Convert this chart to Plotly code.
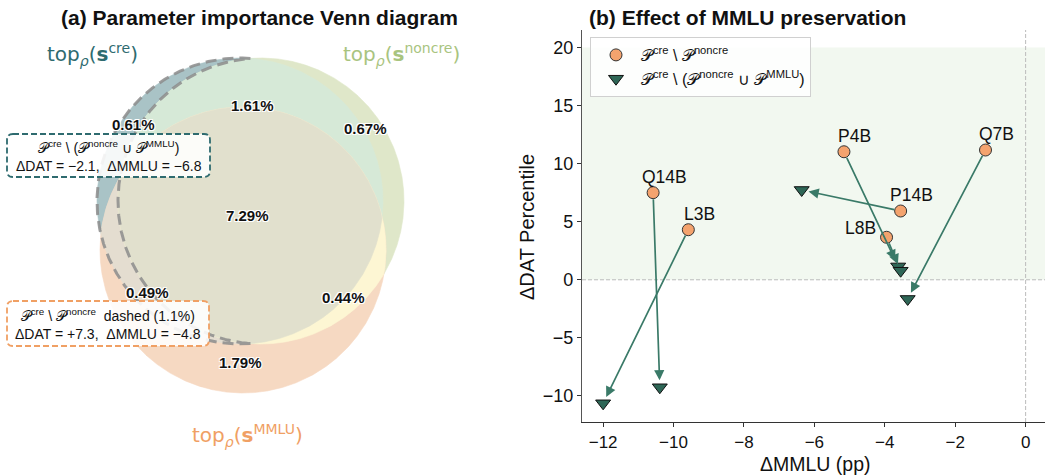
import numpy as np
import plotly.graph_objects as go

# ---------------- data ----------------
# Venn region percentages
pct_cre_only = 0.61
pct_cre_noncre = 1.61
pct_noncre_only = 0.67
pct_all = 7.29
pct_cre_mmlu = 0.49
pct_noncre_mmlu = 0.44
pct_mmlu_only = 1.79

box_dat = [-2.1, 7.3]      # cre\(noncre U mmlu), cre\noncre
box_mmlu = [-6.8, -4.8]
dashed_pct = 1.1

# Scatter panel
models = ["Q14B", "L3B", "P4B", "L8B", "P14B", "Q7B"]
mmlu_cre_noncre = [-10.58, -9.58, -5.16, -3.95, -3.55, -1.14]
dat_cre_noncre = [7.50, 4.31, 11.02, 3.66, 5.92, 11.17]
mmlu_cre_excl = [-10.39, -12.00, -3.62, -3.55, -6.36, -3.35]
dat_cre_excl = [-9.25, -10.63, 1.15, 0.78, 7.73, -1.65]

x_ticks = [-12, -10, -8, -6, -4, -2, 0]
y_ticks = [-10, -5, 0, 5, 10, 15, 20]

# ---------------- style ----------------
FONT = "Liberation Sans, Arial, Helvetica, sans-serif"
W, H = 1045, 476
C_CRE = "#2e6b6f"
C_NONCRE = "#a9c47f"
C_MMLU = "#f0a064"
ORANGE_PT = "#f4a36e"
TRI = "#2e6656"
ARROW = "#3a7a68"
P = "\U0001D4AB"

fig = go.Figure()

# ---------------- Venn (pixel-like coordinate axis) ----------------
R = 143.0
centers = {"cre": (240.0, 201.0), "noncre": (261.0, 201.0), "mmlu": (243.0, 250.0)}
region_colors = {
    ("cre",): "#a9c3c6",
    ("noncre",): "#dfe7c9",
    ("mmlu",): "#f6d9c2",
    ("cre", "noncre"): "#d6e9d7",
    ("cre", "mmlu"): "#e4ddd0",
    ("noncre", "mmlu"): "#fdf6d3",
    ("cre", "noncre", "mmlu"): "#e1e0cd",
}


def circle_pts(c, n=2000):
    t = np.linspace(0, 2 * np.pi, n, endpoint=False)
    return np.c_[c[0] + R * np.cos(t), c[1] + R * np.sin(t)]


def inside(p, c):
    return (p[:, 0] - c[0]) ** 2 + (p[:, 1] - c[1]) ** 2 <= R * R + 1e-6


def intersection_poly(keys):
    pts = []
    for k in keys:
        p = circle_pts(centers[k])
        m = np.ones(len(p), bool)
        for j in keys:
            if j != k:
                m &= inside(p, centers[j])
        pts.append(p[m])
    Pp = np.vstack(pts)
    ctr = Pp.mean(0)
    ang = np.arctan2(Pp[:, 1] - ctr[1], Pp[:, 0] - ctr[0])
    return Pp[np.argsort(ang)]


def add_poly(Pp, color):
    fig.add_trace(go.Scatter(
        x=np.r_[Pp[:, 0], Pp[0, 0]], y=np.r_[Pp[:, 1], Pp[0, 1]],
        mode="lines", fill="toself", fillcolor=color,
        line=dict(width=0.6, color=color), hoverinfo="skip",
        showlegend=False, xaxis="x", yaxis="y"))


for keys in [("cre",), ("noncre",), ("mmlu",), ("cre", "noncre"), ("cre", "mmlu"),
             ("noncre", "mmlu"), ("cre", "noncre", "mmlu")]:
    add_poly(intersection_poly(keys), region_colors[keys])


# dashed outline of cre \ noncre
def circ_intersections(c1, c2):
    d = np.hypot(c2[0] - c1[0], c2[1] - c1[1])
    a = d / 2
    h = np.sqrt(R * R - a * a)
    mx, my = c1[0] + (c2[0] - c1[0]) * a / d, c1[1] + (c2[1] - c1[1]) * a / d
    ux, uy = -(c2[1] - c1[1]) / d, (c2[0] - c1[0]) / d
    return (mx + h * ux, my + h * uy), (mx - h * ux, my - h * uy)


cA, cB = centers["cre"], centers["noncre"]
P1, P2 = circ_intersections(cA, cB)


def ang(c, p):
    return np.mod(np.arctan2(p[1] - c[1], p[0] - c[0]), 2 * np.pi)


tA = np.linspace(ang(cA, P1), ang(cA, P2), 300)
tB = np.linspace(ang(cB, P2), ang(cB, P1), 300)
ox = np.r_[cA[0] + R * np.cos(tA), cB[0] + R * np.cos(tB)]
oy = np.r_[cA[1] + R * np.sin(tA), cB[1] + R * np.sin(tB)]
ox = np.r_[ox, ox[0]]
oy = np.r_[oy, oy[0]]
fig.add_trace(go.Scatter(x=ox, y=oy, mode="lines",
                         line=dict(color="rgba(140,140,140,0.85)", width=3, dash="11px,6px"),
                         hoverinfo="skip", showlegend=False, xaxis="x", yaxis="y"))

# region labels
region_label_pos = [
    (pct_cre_only, 133, 124), (pct_cre_noncre, 252, 105), (pct_noncre_only, 365, 128),
    (pct_all, 247, 215), (pct_cre_mmlu, 147, 292), (pct_noncre_mmlu, 343, 297),
    (pct_mmlu_only, 240, 362),
]
for v, x, y in region_label_pos:
    fig.add_annotation(x=x, y=y, xref="x", yref="y", text=f"<b>{v:.2f}%</b>", showarrow=False,
                       xanchor="center", yanchor="middle",
                       font=dict(family=FONT, size=15, color="#111",
                                 shadow="1px 1px 0 white, -1px -1px 0 white, 1px -1px 0 white, -1px 1px 0 white"))

# set labels
set_label_font = "DejaVu Sans, Liberation Sans, sans-serif"
for txt, x, y, col in [
    ("top<sub><i>ρ</i></sub>(<b>s</b><sup>cre</sup>)", 92, 54, C_CRE),
    ("top<sub><i>ρ</i></sub>(<b>s</b><sup>noncre</sup>)", 401, 54, C_NONCRE),
    ("top<sub><i>ρ</i></sub>(<b>s</b><sup>MMLU</sup>)", 247, 435, C_MMLU),
]:
    fig.add_annotation(x=x, y=y, xref="x", yref="y", text=txt, showarrow=False,
                       xanchor="center", yanchor="middle",
                       font=dict(family=set_label_font, size=20, color=col))


def rrect(x0, y0, x1, y1, r):
    return (f"M{x0 + r},{y0} L{x1 - r},{y0} Q{x1},{y0} {x1},{y0 + r} L{x1},{y1 - r} "
            f"Q{x1},{y1} {x1 - r},{y1} L{x0 + r},{y1} Q{x0},{y1} {x0},{y1 - r} "
            f"L{x0},{y0 + r} Q{x0},{y0} {x0 + r},{y0} Z")


def fmt(v):
    s = f"{abs(v):.1f}"
    return ("−" if v < 0 else "+") + s


NB = "\u00a0"
boxes = [
    (7, 134, 210, 177, C_CRE,
     f"{P}<sup>cre</sup> \\ ({P}<sup>noncre</sup> ∪ {P}<sup>MMLU</sup>)<br>"
     f"ΔDAT = {fmt(box_dat[0])},{NB}{NB}ΔMMLU = {fmt(box_mmlu[0])}"),
    (7, 301, 209, 346, C_MMLU,
     f"{P}<sup>cre</sup> \\ {P}<sup>noncre</sup>{NB}{NB}dashed ({dashed_pct:.1f}%)<br>"
     f"ΔDAT = {fmt(box_dat[1])},{NB}{NB}ΔMMLU = {fmt(box_mmlu[1])}"),
]
for x0, y0, x1, y1, col, txt in boxes:
    fig.add_shape(type="path", path=rrect(x0, y0, x1, y1, 6), xref="x", yref="y",
                  fillcolor="rgba(255,255,255,0.88)", line=dict(color=col, width=1.8, dash="6px,3px"),
                  layer="above")
    fig.add_annotation(x=(x0 + x1) / 2, y=(y0 + y1) / 2, xref="x", yref="y", text=txt,
                       showarrow=False, align="center", xanchor="center", yanchor="middle",
                       font=dict(family=FONT, size=14, color="#111"))

# ---------------- scatter panel ----------------
fig.add_shape(type="rect", xref="x2 domain", yref="y2", x0=0, x1=1, y0=0, y1=20,
              fillcolor="#f2f8f0", line=dict(width=0), layer="below")
fig.add_shape(type="line", xref="x2 domain", yref="y2", x0=0, x1=1, y0=0, y1=0,
              line=dict(color="#bbbbbb", width=1, dash="4px,2px"), layer="below")
fig.add_shape(type="line", xref="x2", yref="y2 domain", x0=0, x1=0, y0=0, y1=1,
              line=dict(color="#bbbbbb", width=1, dash="4px,2px"), layer="below")

for i, m in enumerate(models):
    fig.add_annotation(x=mmlu_cre_excl[i], y=dat_cre_excl[i], xref="x2", yref="y2",
                       ax=mmlu_cre_noncre[i], ay=dat_cre_noncre[i], axref="x2", ayref="y2",
                       text="", showarrow=True, arrowhead=2, arrowsize=1.2, arrowwidth=1.7,
                       arrowcolor=ARROW, standoff=7, startstandoff=5)

fig.add_trace(go.Scatter(
    x=mmlu_cre_noncre, y=dat_cre_noncre, mode="markers", xaxis="x2", yaxis="y2",
    name=f"{P}<sup>cre</sup> \\ {P}<sup>noncre</sup>",
    marker=dict(symbol="circle", size=12, color=ORANGE_PT, line=dict(color="#333", width=1))))
fig.add_trace(go.Scatter(
    x=mmlu_cre_excl, y=dat_cre_excl, mode="markers", xaxis="x2", yaxis="y2",
    name=f"{P}<sup>cre</sup> \\ ({P}<sup>noncre</sup> ∪ {P}<sup>MMLU</sup>)",
    marker=dict(symbol="triangle-down", size=13, color=TRI, line=dict(color="#111", width=1))))

label_shift = {"L8B": (-26, 9)}
for i, m in enumerate(models):
    dx, dy = label_shift.get(m, (11, 16))
    fig.add_annotation(x=mmlu_cre_noncre[i], y=dat_cre_noncre[i], xref="x2", yref="y2",
                       text=m, showarrow=False, xshift=dx, yshift=dy,
                       xanchor="center", yanchor="middle",
                       font=dict(family=FONT, size=17.5, color="#111"))

# titles
for txt, x, y, kw in [
    ("<b>(a) Parameter importance Venn diagram</b>", 259, 18, dict(size=21)),
    ("<b>(b) Effect of MMLU preservation</b>", 747, 18, dict(size=21)),
    ("ΔMMLU (pp)", 815, 464, dict(size=19.5)),
]:
    fig.add_annotation(x=x / W, y=1 - y / H, xref="paper", yref="paper", showarrow=False,
                       text=txt, xanchor="center", yanchor="middle",
                       font=dict(family=FONT, color="#111", **kw))
fig.add_annotation(x=527 / W, y=1 - 227 / H, xref="paper", yref="paper", showarrow=False,
                   text="ΔDAT Percentile", textangle=-90, xanchor="center", yanchor="middle",
                   font=dict(family=FONT, size=20, color="#111"))

fig.update_layout(
    width=W, height=H, margin=dict(l=0, r=0, t=0, b=0),
    paper_bgcolor="white", plot_bgcolor="rgba(0,0,0,0)",
    font=dict(family=FONT, color="#111"),
    xaxis=dict(domain=[0, 420 / W], range=[0, 420], visible=False, fixedrange=True),
    yaxis=dict(domain=[0, 1], range=[H, 0], visible=False, fixedrange=True),
    xaxis2=dict(domain=[582 / W, 1.0], range=[-12.6, 0.55], anchor="y2",
                tickvals=x_ticks, ticks="outside", ticklen=4, tickcolor="#333",
                showline=True, linecolor="#333", linewidth=1.2, showgrid=False, zeroline=False,
                ticklabelstandoff=0,
                tickfont=dict(size=17, family=FONT, color="#111")),
    yaxis2=dict(domain=[1 - 422 / H, 1 - 30 / H], range=[-12.24, 21.5], anchor="x2",
                tickvals=y_ticks, ticks="outside", ticklen=4, tickcolor="#333",
                showline=True, linecolor="#555", linewidth=1.4, showgrid=False, zeroline=False,
                tickfont=dict(size=18, family=FONT, color="#111")),
    showlegend=True,
    legend=dict(x=590 / W, y=1 - 37 / H, xanchor="left", yanchor="top",
                bgcolor="rgba(255,255,255,0.85)", bordercolor="#d0d0d0", borderwidth=1,
                itemwidth=40,
                font=dict(family=FONT, size=16, color="#111"), tracegroupgap=2),
)

fig.write_html("out.html")
